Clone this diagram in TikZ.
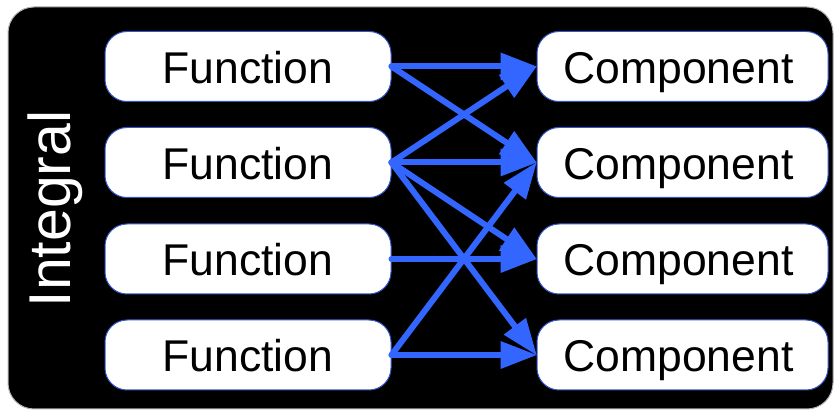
\documentclass[tikz,border=0pt]{standalone}
\usepackage{fontspec}
\setmainfont{Liberation Sans}
\usetikzlibrary{arrows.meta}
\definecolor{arrowblue}{HTML}{3366FF}
\definecolor{boxedge}{HTML}{3355CC}
\begin{document}
\begin{tikzpicture}[x=1pt,y=-1pt,
  box/.style={rectangle, rounded corners=22pt, draw=boxedge, line width=1pt, fill=white,
    minimum width=286pt, minimum height=70pt, inner sep=0pt, text height=34pt, text depth=0pt,
    font=\fontsize{44.5}{48}\selectfont, text=black},
  cbox/.style={box, minimum width=291pt},
  conn/.style={draw=arrowblue, line width=6pt, line cap=round,
    -{Triangle[length=36pt,width=28pt,line width=0pt]}}]
\useasboundingbox (0,0) rectangle (838,411);
\fill[black, draw=gray!60, line width=1pt, rounded corners=26pt] (8,7) rectangle (833,409);
\node[white, rotate=90, font=\fontsize{59}{60}\selectfont] (lbl) at (55,209) {Integral};
\node[box] (f1) at (248,66.5) {Function};
\node[box] (f2) at (248,162.5) {Function};
\node[box] (f3) at (248,259) {Function};
\node[box] (f4) at (248,355) {Function};
\node[cbox] (c1) at (682.5,66.5) {Component\kern8pt};
\node[cbox] (c2) at (682.5,162.5) {Component\kern8pt};
\node[cbox] (c3) at (682.5,259) {Component\kern8pt};
\node[cbox] (c4) at (682.5,355) {Component\kern8pt};
\draw[conn] (f1.east) -- (c1.west);
\draw[conn] (f1.east) -- (c2.west);
\draw[conn] (f2.east) -- (c1.west);
\draw[conn] (f2.east) -- (c2.west);
\draw[conn] (f2.east) -- (c3.west);
\draw[conn] (f2.east) -- (c4.west);
\draw[conn] (f3.east) -- (c3.west);
\draw[conn] (f4.east) -- (c2.west);
\draw[conn] (f4.east) -- (c4.west);
\end{tikzpicture}
\end{document}
